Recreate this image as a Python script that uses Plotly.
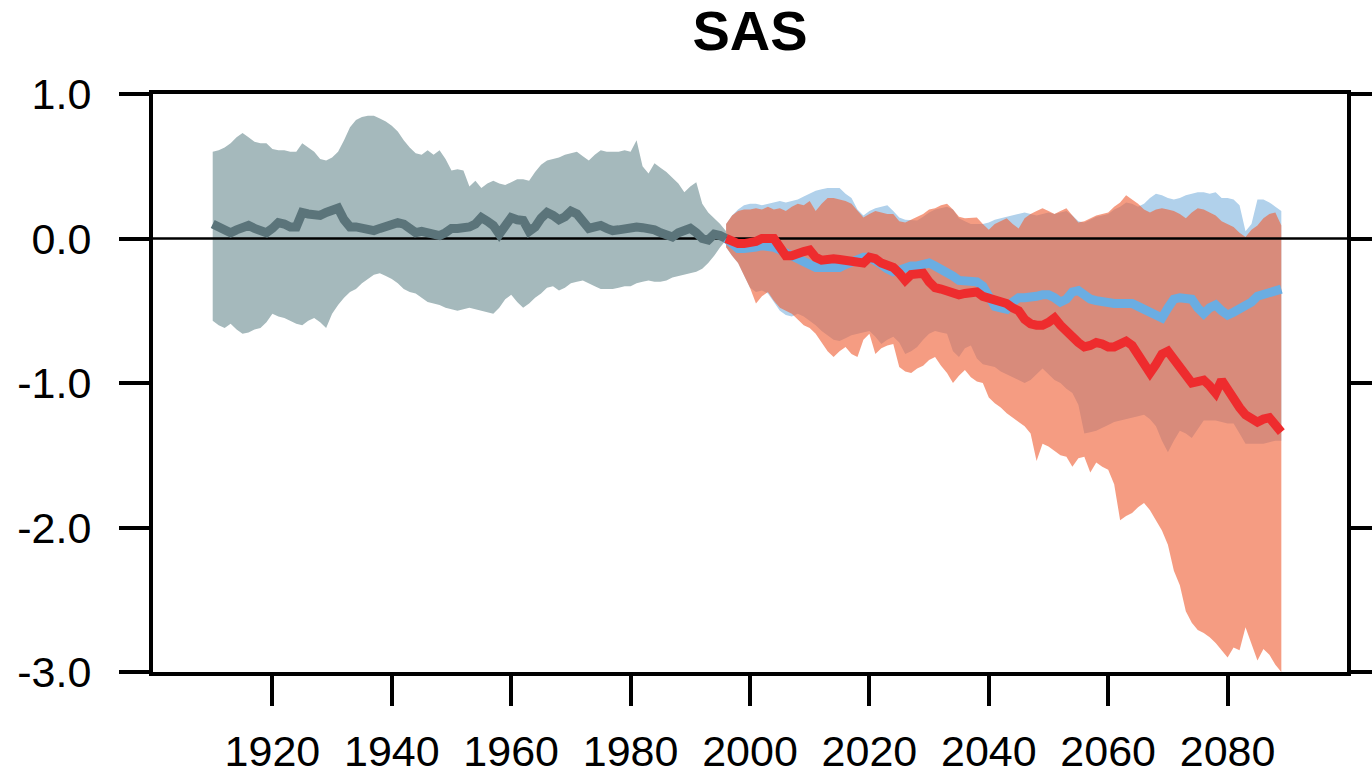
import plotly.graph_objects as go

# ---------------- data ----------------
X_RANGE = [1900, 2100]
Y_RANGE = [-3, 1]
X_TICKS = [1920, 1940, 1960, 1980, 2000, 2020, 2040, 2060, 2080]
Y_TICKS = [-3, -2, -1, 0, 1]
Y_TICK_TEXT = ["-3.0", "-2.0", "-1.0", "0.0", "1.0"]
TITLE = "SAS"

hist_years = list(range(1910, 1997))
hist_mean = [
    0.10, 0.08, 0.05, 0.04, 0.06, 0.08, 0.09, 0.07, 0.05, 0.04,
    0.07, 0.11, 0.10, 0.08, 0.08, 0.18, 0.17, 0.17, 0.16, 0.18,
    0.20, 0.21, 0.13, 0.08, 0.08, 0.07, 0.06, 0.055, 0.07, 0.08,
    0.10, 0.11, 0.10, 0.06, 0.04, 0.05, 0.04, 0.04, 0.02, 0.04,
    0.07, 0.07, 0.07, 0.08, 0.10, 0.145, 0.12, 0.09, 0.03, 0.08,
    0.145, 0.13, 0.125, 0.05, 0.08, 0.14, 0.18, 0.16, 0.13, 0.15,
    0.19, 0.17, 0.13, 0.07, 0.08, 0.09, 0.07, 0.055, 0.06, 0.07,
    0.07, 0.08, 0.075, 0.07, 0.06, 0.04, 0.02, 0.01, 0.04, 0.06,
    0.07, 0.04, 0.00, -0.01, 0.03, 0.02, 0.00,
]
hist_upper = [
    0.60, 0.61, 0.63, 0.66, 0.70, 0.73, 0.70, 0.67, 0.66, 0.66,
    0.62, 0.61, 0.61, 0.60, 0.60, 0.66, 0.63, 0.60, 0.55, 0.54,
    0.56, 0.60, 0.68, 0.77, 0.82, 0.84, 0.85, 0.85, 0.83, 0.81,
    0.78, 0.74, 0.68, 0.63, 0.59, 0.58, 0.61, 0.58, 0.61, 0.55,
    0.47, 0.48, 0.47, 0.36, 0.40, 0.35, 0.38, 0.40, 0.38, 0.37,
    0.39, 0.41, 0.41, 0.40, 0.46, 0.51, 0.54, 0.55, 0.56, 0.58,
    0.59, 0.60, 0.57, 0.54, 0.58, 0.61, 0.60, 0.60, 0.60, 0.61,
    0.60, 0.68, 0.50, 0.45, 0.52, 0.49, 0.46, 0.42, 0.38, 0.32,
    0.36, 0.39, 0.24, 0.18, 0.14, 0.10, 0.05,
]
hist_lower = [
    -0.57, -0.60, -0.62, -0.59, -0.63, -0.66, -0.65, -0.63, -0.62, -0.58,
    -0.52, -0.54, -0.55, -0.57, -0.59, -0.60, -0.57, -0.55, -0.58, -0.62,
    -0.52, -0.46, -0.41, -0.37, -0.35, -0.31, -0.28, -0.25, -0.24, -0.26,
    -0.28, -0.31, -0.35, -0.37, -0.38, -0.41, -0.44, -0.45, -0.46, -0.48,
    -0.49, -0.50, -0.49, -0.48, -0.49, -0.50, -0.51, -0.52, -0.48, -0.42,
    -0.39, -0.44, -0.48, -0.45, -0.41, -0.38, -0.34, -0.33, -0.36, -0.34,
    -0.31, -0.30, -0.29, -0.31, -0.33, -0.35, -0.35, -0.35, -0.34, -0.33,
    -0.33, -0.31, -0.30, -0.29, -0.30, -0.30, -0.29, -0.27, -0.26, -0.25,
    -0.24, -0.23, -0.21, -0.17, -0.12, -0.06, -0.01,
]

fut_years = list(range(1996, 2090))
red_mean = [
    0.00, -0.02, -0.035, -0.035, -0.035, -0.02, 0.0, 0.0, 0.0, -0.06,
    -0.12, -0.12, -0.10, -0.09, -0.08, -0.13, -0.15, -0.14, -0.14, -0.145,
    -0.15, -0.15, -0.16, -0.17, -0.13, -0.14, -0.17, -0.19, -0.20, -0.24,
    -0.29, -0.25, -0.24, -0.24, -0.30, -0.34, -0.35, -0.36, -0.37, -0.39,
    -0.38, -0.37, -0.37, -0.40, -0.41, -0.42, -0.43, -0.45, -0.48, -0.50,
    -0.56, -0.59, -0.60, -0.60, -0.58, -0.55, -0.60, -0.65, -0.68, -0.72,
    -0.75, -0.74, -0.72, -0.73, -0.75, -0.75, -0.73, -0.71, -0.74, -0.80,
    -0.88, -0.93, -0.87, -0.80, -0.78, -0.84, -0.90, -0.95, -1.00, -0.99,
    -0.98, -1.02, -1.07, -0.98, -1.05, -1.12, -1.17, -1.22, -1.24, -1.27,
    -1.25, -1.24, -1.29, -1.34,
]
blue_mean = [
    0.00, -0.04, -0.07, -0.07, -0.07, -0.06, -0.05, -0.05, -0.06, -0.08,
    -0.10, -0.12, -0.15, -0.17, -0.18, -0.20, -0.20, -0.20, -0.20, -0.20,
    -0.18, -0.16, -0.14, -0.13, -0.13, -0.15, -0.18, -0.21, -0.23, -0.22,
    -0.20, -0.19, -0.19, -0.18, -0.17, -0.19, -0.21, -0.23, -0.26, -0.29,
    -0.29, -0.30, -0.30, -0.33, -0.40, -0.47, -0.48, -0.49, -0.44, -0.41,
    -0.41, -0.41, -0.40, -0.39, -0.39, -0.41, -0.44, -0.42, -0.37, -0.36,
    -0.39, -0.42, -0.43, -0.44, -0.45, -0.45, -0.45, -0.45, -0.45, -0.47,
    -0.49, -0.51, -0.53, -0.55, -0.48, -0.42, -0.41, -0.41, -0.42, -0.48,
    -0.52, -0.48, -0.46, -0.50, -0.53, -0.51, -0.49, -0.46, -0.44, -0.40,
    -0.39, -0.38, -0.37, -0.35,
]
red_upper = [
    0.10, 0.16, 0.19, 0.20, 0.20, 0.21, 0.20, 0.22, 0.20, 0.21,
    0.19, 0.22, 0.24, 0.23, 0.26, 0.19, 0.24, 0.28, 0.28, 0.27,
    0.26, 0.24, 0.19, 0.145, 0.17, 0.19, 0.18, 0.17, 0.17, 0.12,
    0.11, 0.13, 0.145, 0.17, 0.20, 0.21, 0.23, 0.24, 0.20, 0.15,
    0.14, 0.14, 0.145, 0.10, 0.06, 0.10, 0.12, 0.14, 0.10, 0.07,
    0.14, 0.17, 0.19, 0.21, 0.19, 0.17, 0.19, 0.21, 0.16, 0.11,
    0.12, 0.14, 0.16, 0.17, 0.18, 0.22, 0.25, 0.30, 0.27, 0.24,
    0.20, 0.18, 0.20, 0.21, 0.20, 0.19, 0.17, 0.14, 0.18, 0.21,
    0.20, 0.18, 0.16, 0.12, 0.10, 0.08, 0.04, 0.01, 0.06, 0.09,
    0.14, 0.17, 0.18, 0.09,
]
blue_upper = [
    0.10, 0.16, 0.20, 0.23, 0.24, 0.24, 0.23, 0.24, 0.25, 0.26,
    0.25, 0.26, 0.27, 0.29, 0.31, 0.33, 0.34, 0.35, 0.35, 0.35,
    0.31, 0.28, 0.20, 0.16, 0.19, 0.21, 0.22, 0.23, 0.19, 0.145,
    0.13, 0.125, 0.125, 0.15, 0.18, 0.20, 0.21, 0.22, 0.20, 0.14,
    0.12, 0.10, 0.10, 0.10, 0.11, 0.13, 0.14, 0.15, 0.16, 0.17,
    0.18, 0.17, 0.16, 0.17, 0.18, 0.17, 0.18, 0.19, 0.16, 0.12,
    0.11, 0.13, 0.15, 0.16, 0.17, 0.20, 0.22, 0.25, 0.24, 0.22,
    0.24, 0.28, 0.31, 0.30, 0.28, 0.27, 0.28, 0.30, 0.31, 0.32,
    0.32, 0.31, 0.32, 0.28, 0.28, 0.27, 0.23, 0.05, 0.10, 0.27,
    0.27, 0.25, 0.22, 0.19,
]
red_lower = [
    -0.06, -0.12, -0.17, -0.26, -0.34, -0.45, -0.40, -0.37, -0.43, -0.48,
    -0.50, -0.52, -0.56, -0.60, -0.62, -0.66, -0.72, -0.78, -0.82, -0.78,
    -0.75, -0.80, -0.82, -0.70, -0.66, -0.80, -0.76, -0.74, -0.73, -0.89,
    -0.92, -0.93, -0.90, -0.88, -0.84, -0.82, -0.88, -0.93, -1.00, -0.95,
    -0.91, -0.96, -0.99, -1.00, -1.10, -1.14, -1.17, -1.21, -1.24, -1.27,
    -1.30, -1.35, -1.54, -1.42, -1.44, -1.47, -1.50, -1.51, -1.58, -1.52,
    -1.51, -1.62, -1.55, -1.58, -1.60, -1.70, -1.95, -1.92, -1.90, -1.86,
    -1.83, -1.88, -1.95, -2.02, -2.12, -2.30, -2.40, -2.58, -2.66, -2.71,
    -2.73, -2.76, -2.80, -2.85, -2.90, -2.83, -2.85, -2.69, -2.80, -2.92,
    -2.84, -2.88, -2.95, -3.0,
]
blue_lower = [
    -0.06, -0.12, -0.17, -0.26, -0.34, -0.37, -0.36, -0.38, -0.44, -0.50,
    -0.53, -0.54, -0.52, -0.54, -0.57, -0.60, -0.64, -0.67, -0.70, -0.71,
    -0.69, -0.67, -0.66, -0.65, -0.64, -0.68, -0.73, -0.70, -0.68, -0.72,
    -0.80, -0.78, -0.75, -0.70, -0.66, -0.64, -0.65, -0.66, -0.78, -0.82,
    -0.76, -0.74, -0.83, -0.87, -0.88, -0.89, -0.92, -0.94, -0.96, -0.98,
    -1.00, -0.98, -0.94, -0.90, -0.94, -0.98, -1.00, -1.04, -1.07, -1.15,
    -1.35, -1.34, -1.33, -1.31, -1.29, -1.27, -1.26, -1.25, -1.24, -1.23,
    -1.22, -1.25, -1.30, -1.40, -1.48, -1.40, -1.33, -1.35, -1.38, -1.32,
    -1.26, -1.26, -1.26, -1.27, -1.28, -1.28, -1.35, -1.42, -1.42, -1.42,
    -1.42, -1.41, -1.40, -1.40,
]

# ---------------- styles ----------------
FONT = "Liberation Sans, Arial, Helvetica, sans-serif"
HIST_FILL = "rgb(165,185,188)"
HIST_LINE = "rgb(91,116,122)"
BLUE_FILL = "rgb(177,209,235)"
BLUE_LINE = "rgb(106,173,226)"
RED_FILL = "rgba(239,98,57,0.63)"
RED_LINE = "rgb(238,44,46)"

FIG_W, FIG_H = 1372, 774


def band(x, up, lo, color):
    return go.Scatter(
        x=list(x) + list(x)[::-1],
        y=list(up) + list(lo)[::-1],
        fill="toself", fillcolor=color,
        line=dict(width=0), mode="lines",
        hoverinfo="skip", showlegend=False,
    )


def mean_line(x, y, color):
    return go.Scatter(
        x=x, y=y, mode="lines",
        line=dict(color=color, width=9),
        showlegend=False,
    )


fig = go.Figure()
fig.add_trace(band(hist_years, hist_upper, hist_lower, HIST_FILL))
fig.add_trace(band(fut_years, blue_upper, blue_lower, BLUE_FILL))
fig.add_trace(band(fut_years, red_upper, red_lower, RED_FILL))
# zero reference line across the full x range
fig.add_trace(go.Scatter(x=X_RANGE, y=[0, 0], mode="lines",
                         line=dict(color="black", width=2.5),
                         showlegend=False, hoverinfo="skip"))
fig.add_trace(mean_line(hist_years, hist_mean, HIST_LINE))
fig.add_trace(mean_line(fut_years, blue_mean, BLUE_LINE))
fig.add_trace(mean_line(fut_years, red_mean, RED_LINE))

fig.update_layout(
    width=FIG_W, height=FIG_H,
    margin=dict(l=153, r=25, t=94, b=102, autoexpand=False),
    paper_bgcolor="white", plot_bgcolor="white",
    showlegend=False,
    title=dict(text="<b>" + TITLE + "</b>", x=750 / FIG_W, xanchor="center",
               xref="container",
               y=1 - 30 / FIG_H, yanchor="middle", yref="container",
               font=dict(family=FONT, size=56, color="black")),
    font=dict(family=FONT, color="black"),
)
fig.update_xaxes(
    range=X_RANGE, tickvals=X_TICKS, ticks="outside", ticklen=30,
    tickwidth=4, tickcolor="black", showline=True, linewidth=4,
    linecolor="black", mirror=True, showgrid=False, zeroline=False,
    tickfont=dict(family=FONT, size=43, color="black"),
    ticklabelstandoff=8, automargin=False,
)
fig.update_yaxes(
    range=Y_RANGE, tickvals=Y_TICKS, ticktext=Y_TICK_TEXT,
    ticks="outside", ticklen=30, tickwidth=4, tickcolor="black",
    showline=True, linewidth=4, linecolor="black", mirror="allticks",
    showgrid=False, zeroline=False,
    tickfont=dict(family=FONT, size=43, color="black"),
    ticklabelstandoff=19, automargin=False,
)

# remove the browser's default 8px page margin so the figure fills the window
fig.write_html("out.html",
               config={"displayModeBar": False},
               post_script="document.body.style.margin='0';"
                           "document.body.style.overflow='hidden';")
